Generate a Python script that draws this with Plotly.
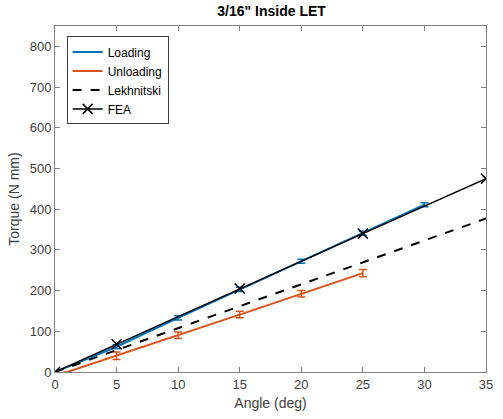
import plotly.graph_objects as go

load_x = [0, 5, 10, 15, 20, 25, 30]
load_y = [0, 62, 133, 203, 272, 341, 411]
load_err = [0, 5, 5, 5, 5, 5, 5]

unload_x = [1, 5, 10, 15, 20, 25]
unload_y = [0, 40, 90, 141, 192, 243]
unload_err = [0, 9, 8, 8, 8, 9]

lek_x = [0, 35]
lek_y = [0, 377]

fea_x = [0, 5, 15, 25, 35]
fea_y = [0, 68, 205, 340, 475]

blue = "#0072BD"
orange = "#D95319"

fig = go.Figure()
fig.add_trace(go.Scatter(x=load_x, y=load_y, name="Loading", mode="lines",
                         line=dict(color=blue, width=2),
                         error_y=dict(type="data", array=load_err, color=blue, thickness=1.5, width=4)))
fig.add_trace(go.Scatter(x=unload_x, y=unload_y, name="Unloading", mode="lines",
                         line=dict(color=orange, width=2),
                         error_y=dict(type="data", array=unload_err, color=orange, thickness=1.5, width=4)))
fig.add_trace(go.Scatter(x=lek_x, y=lek_y, name="Lekhnitski", mode="lines",
                         line=dict(color="black", width=2, dash="dash")))
fig.add_trace(go.Scatter(x=fea_x, y=fea_y, name="FEA", mode="lines+markers",
                         line=dict(color="black", width=1.5),
                         marker=dict(symbol="x-thin", size=10, line=dict(color="black", width=1.5))))

axis_common = dict(showline=True, linecolor="#808080", linewidth=1, mirror="ticks",
                   ticks="inside", ticklen=5, tickcolor="#808080", showgrid=False,
                   zeroline=False, tickfont=dict(family="Arial, Liberation Sans", size=13, color="#404040"),
                   title_font=dict(family="Arial, Liberation Sans", size=14, color="#404040"))

fig.update_layout(
    width=503, height=419,
    margin=dict(l=55, r=10, t=26, b=47),
    paper_bgcolor="white", plot_bgcolor="white",
    title=dict(text="<b>3/16\" Inside LET</b>", x=0.54, xanchor="center", y=0.985, yanchor="top",
               font=dict(family="Arial, Liberation Sans", size=14, color="black")),
    xaxis=dict(range=[0, 35], tickvals=[0, 5, 10, 15, 20, 25, 30, 35],
               title=dict(text="Angle (deg)", standoff=7), **axis_common),
    yaxis=dict(range=[0, 850], tickvals=[0, 100, 200, 300, 400, 500, 600, 700, 800],
               title=dict(text="Torque (N mm)", standoff=6), **axis_common),
    legend=dict(x=0.027, y=0.97, xanchor="left", yanchor="top", bgcolor="white",
                bordercolor="#404040", borderwidth=1,
                font=dict(family="Arial, Liberation Sans", size=12, color="black"),
                tracegroupgap=0, itemwidth=30),
    showlegend=True,
)

fig.write_html("out.html")
